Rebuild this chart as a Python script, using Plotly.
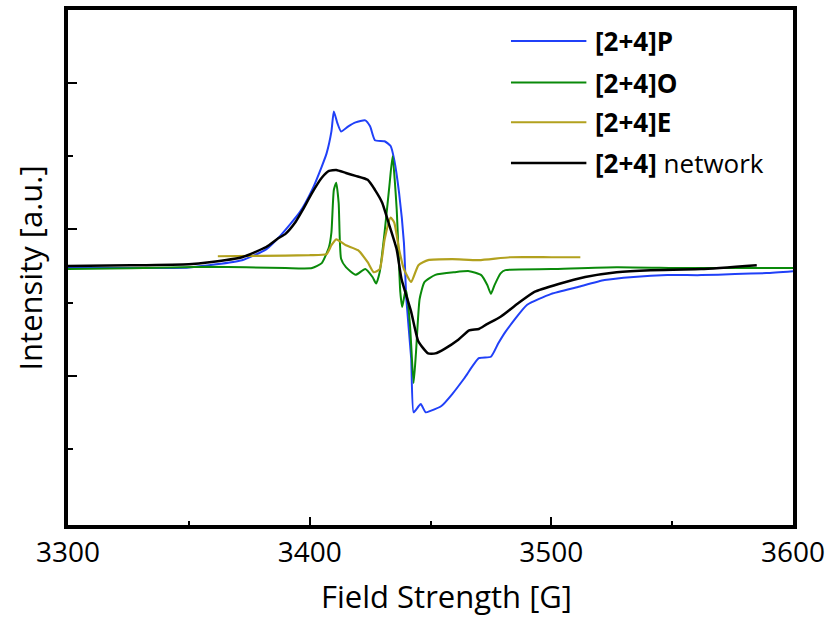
import plotly.graph_objects as go

# ---- data (field in G, intensity in a.u.) ----
field_P = [3300, 3326, 3350, 3372, 3382, 3388, 3396, 3401, 3405, 3407, 3409, 3410, 3411.5, 3413,
           3416, 3419, 3423, 3425, 3427, 3431, 3433.5, 3435, 3437, 3439, 3440, 3442, 3443, 3445,
           3446, 3448, 3450, 3454.5, 3459, 3464, 3470, 3475, 3478, 3481, 3490, 3500, 3511, 3522,
           3534, 3548, 3562, 3576, 3589, 3600]
int_P = [-26.4, -26.4, -26, -21, -13.6, -4, 12, 27, 43, 52, 67, 80.7, 72.5, 67,
         70.5, 73.2, 74.6, 70.5, 61, 60.3, 57, 47.5, 25, -9, -47.5, -88, -125, -121,
         -119.3, -125, -124, -120.7, -112.5, -101.7, -88, -87, -78, -70, -51.5, -44, -39.3, -34.6,
         -32.5, -31.2, -31.2, -30.5, -29.8, -28.5]

field_O = [3300, 3326, 3358, 3390, 3401, 3405, 3408, 3409, 3410, 3411, 3412, 3413, 3415, 3419,
           3423, 3426, 3427.5, 3429, 3431, 3433, 3434.3, 3436, 3437.5, 3438.3, 3439.5, 3440, 3441.5,
           3443, 3444, 3445.5, 3447.5, 3452, 3460, 3466, 3471, 3473.5, 3475, 3476.5, 3479, 3481,
           3500, 3527, 3555, 3582, 3600]
int_O = [-27, -26.5, -25.5, -26.4, -26.4, -23, -12, -2, 27, 32, 18, -20, -25.8, -31,
         -27, -32.5, -37, -29, -2, 30, 50, 14, -42.7, -53, -43, -42, -65,
         -105, -84, -47.5, -36, -31, -29.2, -28.5, -31.2, -38, -44, -38, -30, -27.8,
         -27.1, -25.8, -26.4, -26.4, -26.4]

field_E = [3362, 3380, 3400, 3407, 3409, 3411, 3415, 3420, 3424, 3426.5, 3429, 3431, 3433.5, 3435,
           3437, 3439, 3442, 3445, 3449, 3459, 3470, 3483, 3500, 3512]
int_E = [-18.3, -18, -17.6, -16.9, -10.8, -6.8, -10.8, -14.2, -22.4, -29.2, -27.1, -6.8, 8.1, 4.7,
         -13.6, -27.1, -35.9, -24.4, -21, -20.3, -21, -19, -19, -19]

field_N = [3300, 3326, 3350, 3358.5, 3372, 3382, 3387, 3390, 3394, 3397, 3401, 3405, 3408, 3411,
           3415, 3419, 3424, 3427, 3430, 3433, 3436, 3438, 3442, 3445, 3449, 3452, 3456, 3461.5,
           3466, 3470, 3473, 3479, 3486, 3493, 3503, 3514, 3527, 3541, 3562, 3585]
int_N = [-25, -24.5, -23.7, -22.4, -19, -12, -6, -3, 4.7, 13, 25, 35.3, 40, 40.7,
         38.6, 36.6, 33.9, 27.1, 18.3, 2.7, -13.6, -33.9, -56.3, -76.6, -84.7, -84.7, -81.4, -75.3,
         -69, -68, -65.1, -59.7, -50.8, -42.7, -37.3, -32.5, -29.2, -27.8, -27.1, -24.4]

x_ticks = [3300, 3400, 3500, 3600]
y_major_ticks = [-100, 0, 100]
y_minor_ticks = [-150, -50, 50]
legend_labels = ["<b>[2+4]P</b>", "<b>[2+4]O</b>", "<b>[2+4]E</b>", "<b>[2+4]</b> network"]

colors = ["#2040f8", "#0a8a0a", "#b2a11e", "#000000"]
widths = [2.0, 2.0, 2.2, 2.5]

fig = go.Figure()
series = [(field_P, int_P), (field_O, int_O), (field_E, int_E), (field_N, int_N)]
for (xs, ys), c, w, name in zip(series, colors, widths, legend_labels):
    fig.add_trace(go.Scatter(x=xs, y=ys, mode="lines",
                             line=dict(color=c, width=w, shape="spline", smoothing=0.5),
                             name=name, showlegend=False))

FONT = "Open Sans"

# manual legend (long line samples, as in the original figure)
leg_rows_y = [0.940, 0.859, 0.782, 0.703]
shapes = []
annotations = []
for yy, c, w, lab in zip(leg_rows_y, colors, widths, legend_labels):
    shapes.append(dict(type="line", xref="paper", yref="paper", x0=0.611, x1=0.715, y0=yy, y1=yy,
                       line=dict(color=c, width=w)))
    annotations.append(dict(xref="paper", yref="paper", x=0.724, y=yy, xanchor="left",
                            yanchor="middle", text=lab, showarrow=False,
                            font=dict(family=FONT, size=26, color="black")))

annotations.append(dict(xref="paper", yref="paper", x=0.522, y=-0.137, xanchor="center",
                        yanchor="middle", text="Field Strength [G]", showarrow=False, borderpad=0,
                        font=dict(family=FONT, size=31, color="black")))
annotations.append(dict(xref="paper", yref="paper", x=-0.053, y=0.499, xanchor="center",
                        yanchor="middle", text="Intensity [a.u.]", showarrow=False, textangle=-90,
                        font=dict(family=FONT, size=31, color="black")))

fig.update_layout(
    width=831, height=617,
    margin=dict(l=68, r=36, t=6, b=92),
    plot_bgcolor="white", paper_bgcolor="white",
    font=dict(family=FONT, color="black"),
    shapes=shapes, annotations=annotations,
    xaxis=dict(range=[3300, 3600], tickvals=x_ticks, ticks="inside", ticklen=8, tickwidth=2,
               tickcolor="black", showline=True, linewidth=3.5, linecolor="black", mirror=True,
               showgrid=False, zeroline=False, tickfont=dict(family=FONT, size=28),
               minor=dict(ticks="inside", dtick=50, ticklen=4, tickwidth=2, tickcolor="black",
                          showgrid=False)),
    yaxis=dict(range=[-202, 150], tickvals=y_major_ticks, ticks="inside", ticklen=9, tickwidth=2,
               tickcolor="black", showline=True, linewidth=3.5, linecolor="black", mirror=True,
               showgrid=False, zeroline=False, showticklabels=False,
               minor=dict(ticks="inside", tickvals=y_minor_ticks, ticklen=5, tickwidth=2,
                          tickcolor="black", showgrid=False)),
)

fig.write_html("out.html", config={"displayModeBar": False},
               post_script="document.body.style.margin='0px';")
